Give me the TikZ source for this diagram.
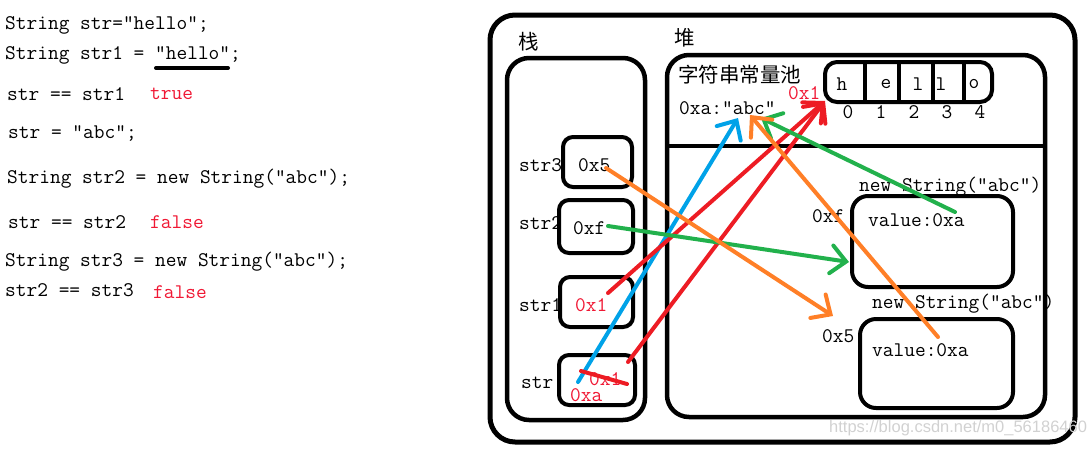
\documentclass[tikz,border=0pt]{standalone}
\usepackage{fontspec}
\newfontfamily\cjk{Noto Sans CJK SC}
\newfontfamily\wmfont{Liberation Sans}
\usetikzlibrary{arrows.meta}
\definecolor{tred}{RGB}{240,24,52}
\definecolor{ared}{RGB}{237,28,36}
\definecolor{ablue}{RGB}{0,162,232}
\definecolor{agreen}{RGB}{34,177,76}
\definecolor{aorange}{RGB}{255,127,39}
\begin{document}
\begin{tikzpicture}[x=1pt,y=-1pt,
  txt/.style={anchor=west,inner sep=0pt,font=\ttfamily\fontsize{20.8}{22}\selectfont},
  cjktxt/.style={anchor=west,inner sep=0pt,font=\cjk\fontsize{20.5}{22}\selectfont},
  bigbox/.style={draw,line width=4.5pt,rounded corners=22pt,inner sep=0pt},
  slotbox/.style={draw,line width=4pt,rounded corners=10pt,inner sep=0pt},
  objbox/.style={draw,line width=4pt,rounded corners=16pt,inner sep=0pt},
  arr/.style={line width=4pt,line cap=round,-{Straight Barb[length=15pt,width=28pt,line cap=round]}},
  plain/.style={line width=4pt,line cap=round}]
\useasboundingbox (0,0) rectangle (1089,448);

% ---------- left code ----------
\node[txt] (l1) at (5,25) {String str=”hello”;};
\node[txt] (l2) at (5,55) {String str1 = ”hello”;};
\coordinate (u1) at (156,68);
\coordinate (u2) at (228,68);
\draw[plain] (u1) -- (u2);
\node[txt] (l3) at (7,94) {str == str1};
\node[txt,text=tred] (l3r) at (150,94) {true};
\node[txt] (l4) at (8,133) {str = ”abc”;};
\node[txt] (l5) at (7,179) {String str2 = new String(”abc”);};
\node[txt] (l6) at (8,222) {str == str2};
\node[txt,text=tred] (l6r) at (150,222) {false};
\node[txt] (l7) at (5,262) {String str3 = new String(”abc”);};
\node[txt] (l8) at (5,290) {str2 == str3};
\node[txt,text=tred] (l8r) at (153,292) {false};

% ---------- memory frame ----------
\node[bigbox,line width=5pt,rounded corners=25pt,minimum width=585pt,minimum height=427pt] (outer) at (782.5,228.5) {};
\node[cjktxt] (zhan) at (518,42) {栈};
\node[cjktxt] (dui) at (674,38) {堆};
\node[bigbox,minimum width=138pt,minimum height=362pt] (stack) at (576,239) {};
\node[bigbox,minimum width=378pt,minimum height=362pt] (heap) at (856,236) {};
\coordinate (d1) at (667,146);
\coordinate (d2) at (1045,146);
\draw[line width=4.5pt] (d1) -- (d2);

% string pool
\node[cjktxt] (pool) at (678,75) {字符串常量池};
\node[txt] (abc) at (679,108) {0xa:”abc”};
\node[txt,text=tred] (p0x1) at (788,93) {0x1};
\node[slotbox,rounded corners=12pt,minimum width=167pt,minimum height=40pt] (arrbox) at (908.5,82) {};
\foreach \xx in {865,899,933,964}{
  \draw[line width=4pt] (\xx,62) -- (\xx,102);
}
\foreach \ch/\xx in {h/842,e/886,l/918,l/941,o/974}{
  \node[txt,anchor=center] at (\xx,84) {\ch};
}
\foreach \ch/\xx in {0/848,1/881,2/914,3/947,4/980}{
  \node[txt,anchor=center] at (\xx,112) {\ch};
}

% stack slots
\node[slotbox,minimum width=69pt,minimum height=50pt] (s3) at (597.5,162) {};
\node[slotbox,minimum width=74pt,minimum height=53pt] (s2) at (596,226.5) {};
\node[slotbox,minimum width=73pt,minimum height=50pt] (s1) at (596.5,302) {};
\node[slotbox,minimum width=76pt,minimum height=50pt] (s0) at (597,380) {};
\node[txt] (n3) at (519,165) {str3};
\node[txt] (n2) at (519,223) {str2};
\node[txt] (n1) at (519,305) {str1};
\node[txt] (n0) at (521,383) {str};
\node[txt] (v3) at (578,165) {0x5};
\node[txt] (v2) at (573,228) {0xf};
\node[txt,text=tred] (v1) at (575,305) {0x1};
\node[txt,text=tred] (v0a) at (589,379) {0x1};
\node[txt,text=tred] (v0b) at (570,395) {0xa};

% heap objects
\node[txt] (o1t) at (859,187) {new String(”abc”)};
\node[objbox,minimum width=161pt,minimum height=91pt] (o1) at (932.5,241.5) {};
\node[txt] (o1a) at (812,216) {0xf};
\node[txt] (o1v) at (868,220) {value:0xa};
\node[txt] (o2t) at (872,304) {new String(”abc”)};
\node[objbox,minimum width=153pt,minimum height=89pt] (o2) at (936.5,363.5) {};
\node[txt] (o2a) at (822,336) {0x5};
\node[txt] (o2v) at (872,350) {value:0xa};

% ---------- arrows ----------
\coordinate (bS) at (578,382);
\coordinate (bE) at (738,118);
\draw[arr,ablue] (bS) -- (bE);

\coordinate (r1S) at (608,293);
\coordinate (r2S) at (628,362);
\coordinate (rE) at (825,101);
\draw[arr,ared] (r1S) -- (rE);
\draw[arr,ared] (r2S) -- (rE);
\coordinate (k1) at (581,371);
\coordinate (k2) at (627,384);
\draw[plain,ared] (k1) -- (k2);

\coordinate (g1S) at (608,226);
\coordinate (g1E) at (849,262);
\draw[arr,agreen] (g1S) -- (g1E);
\coordinate (g2S) at (955,212);
\coordinate (g2E) at (761,118);
\draw[arr,agreen] (g2S) -- (g2E);

\coordinate (o1S) at (606,168);
\coordinate (o1E) at (833,316);
\draw[arr,aorange] (o1S) -- (o1E);
\coordinate (o2S) at (938,337);
\coordinate (o2E) at (750,115);
\draw[arr,aorange] (o2S) -- (o2E);

% watermark
\node[anchor=west,inner sep=0pt,text=black!18,font=\wmfont\fontsize{16.5}{18}\selectfont] (wm) at (829,428) {https://blog.csdn.net/m0\_56186460};
\end{tikzpicture}
\end{document}
